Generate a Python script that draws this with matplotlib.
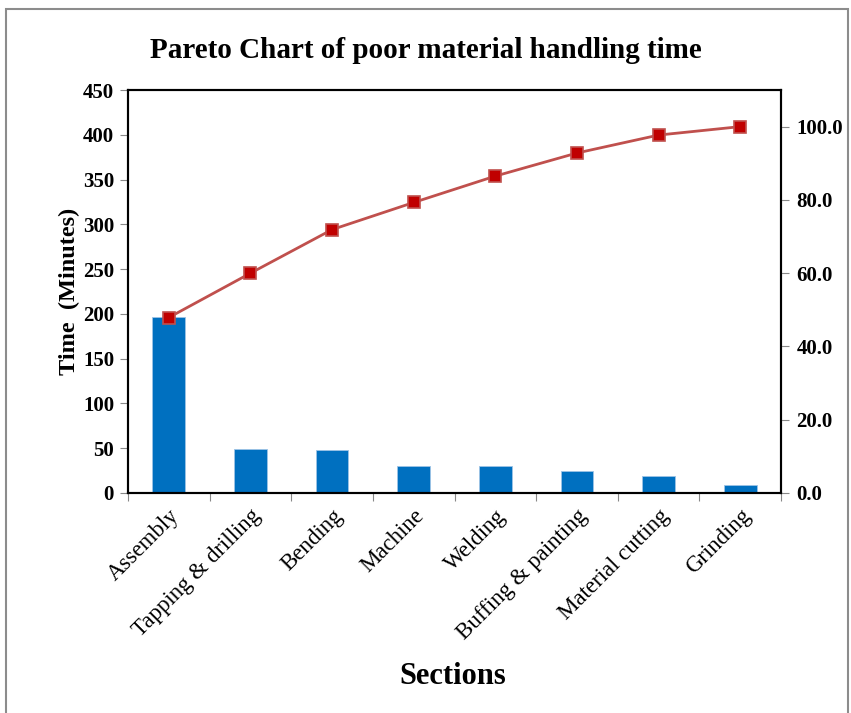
import matplotlib

matplotlib.use("Agg")
import matplotlib.pyplot as plt
import numpy as np
from matplotlib.patches import Rectangle

SECTIONS = ["Assembly", "Tapping & drilling", "Bending", "Machine", "Welding",
            "Buffing & painting", "Material cutting", "Grinding"]
TIME_MIN = [196, 49, 48, 30, 30, 25, 19, 9]
CUM_PCT = [47.9, 60.0, 71.9, 79.3, 86.5, 92.8, 97.7, 100.0]
LEFT_TICKS = [0, 50, 100, 150, 200, 250, 300, 350, 400, 450]
RIGHT_TICKS = [0, 20, 40, 60, 80, 100]

BAR_COLOR = "#0070C0"
LINE_COLOR = "#C0504D"
MARKER_COLOR = "#C00000"

plt.rcParams["font.family"] = ["Liberation Serif", "DejaVu Serif"]

fig = plt.figure(figsize=(8.51, 7.13), dpi=100)
ax = fig.add_axes([128 / 851, 1 - 493 / 713, (781 - 128) / 851, (493 - 90) / 713])

x = np.arange(len(SECTIONS))
ax.bar(x, TIME_MIN, 0.4, color=BAR_COLOR, edgecolor="#9DC3E6", linewidth=0.6, zorder=2)
ax.set_xlim(-0.5, len(SECTIONS) - 0.5)
ax.set_ylim(0, 450)
ax.set_yticks(LEFT_TICKS)
ax.set_yticklabels([str(v) for v in LEFT_TICKS], fontsize=15, fontweight="bold")

# category labels centred on bars, ticks on the boundaries
ax.set_xticks(np.arange(len(SECTIONS) + 1) - 0.5)
ax.set_xticklabels([])
ax.set_xticks(x, minor=True)
ax.set_xticklabels(SECTIONS, minor=True, rotation=45, ha="right", rotation_mode="anchor",
                   fontsize=16.5)
ax.tick_params(axis="x", which="minor", length=0, pad=9)
ax.tick_params(axis="x", which="major", length=6, color="#888888", direction="out")
ax.tick_params(axis="y", length=6, color="#888888", direction="out", pad=4)

for sp in ax.spines.values():
    sp.set_linewidth(1.5)
    sp.set_color("black")

ax2 = ax.twinx()
ax2.plot(x, CUM_PCT, color=LINE_COLOR, linewidth=2, marker="s", markersize=8.5,
         markerfacecolor=MARKER_COLOR, markeredgecolor=LINE_COLOR, markeredgewidth=1.2,
         zorder=3)
ax2.set_ylim(0, 110)
ax2.set_yticks(RIGHT_TICKS)
ax2.set_yticklabels([f"{v:.1f}" for v in RIGHT_TICKS], fontsize=15, fontweight="bold")
ax2.tick_params(axis="y", length=6, color="#888888", direction="out", pad=5)
for sp in ax2.spines.values():
    sp.set_linewidth(1.5)
    sp.set_color("black")

ax.set_ylabel("Time  (Minutes)", fontsize=17.5, fontweight="bold", labelpad=2)
fig.text(426 / 851, 1 - 51 / 713, "Pareto Chart of poor material handling time",
         ha="center", va="center", fontsize=21, fontweight="bold")
fig.text(453 / 851, 1 - 676 / 713, "Sections", ha="center", va="center",
         fontsize=22, fontweight="bold")

# grey frame around the chart area
fig.patches.append(Rectangle((6 / 851, -0.01), (848 - 6) / 851, 1 - 9 / 713 + 0.01,
                             transform=fig.transFigure, fill=False,
                             edgecolor="#8C8C8C", linewidth=1.5))

fig.savefig("out.png", dpi=100)
